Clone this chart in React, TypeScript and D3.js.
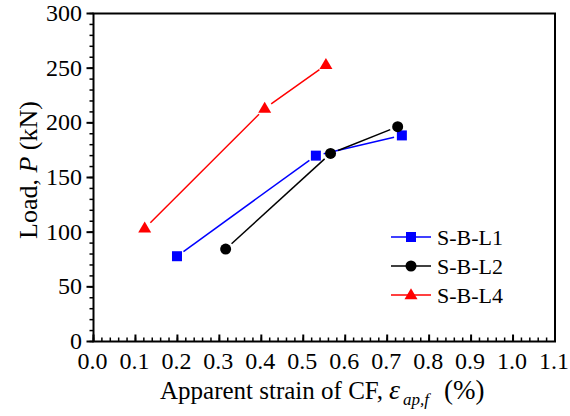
import React from "react";
import * as d3 from "d3";

const seriesNames = ["S-B-L1", "S-B-L2", "S-B-L4"];
const seriesColors = ["#0000ff", "#000000", "#ff0000"];
const seriesShapes = ["square", "circle", "triangle"];
const l1Strain = [0.199, 0.53, 0.735];
const l1Load = [78, 170, 188.5];
const l2Strain = [0.315, 0.565, 0.725];
const l2Load = [84.5, 172, 196.5];
const l4Strain = [0.122, 0.408, 0.554];
const l4Load = [103.5, 213, 253];
const xTicks = [0, 0.1, 0.2, 0.3, 0.4, 0.5, 0.6, 0.7, 0.8, 0.9, 1.0, 1.1];
const yTicks = [0, 50, 100, 150, 200, 250, 300];

const W = 570, H = 416;
const left = 93.5, right = 555, top = 13.5, bottom = 341.5;
const FONT = "Liberation Serif";
const ts = { fontFamily: FONT };

function Marker({ shape, x, y, color }: { shape: string; x: number; y: number; color: string }) {
  if (shape === "square") return <rect x={x - 5} y={y - 5} width={10} height={10} fill={color} />;
  if (shape === "circle") return <circle cx={x} cy={y} r={5.5} fill={color} />;
  const s = 13, h = 11;
  return <path d={`M${x},${y - h * 0.62}L${x + s / 2},${y + h * 0.38}L${x - s / 2},${y + h * 0.38}Z`} fill={color} />;
}

export default function App() {
  const x = d3.scaleLinear().domain([0, 1.1]).range([left, right]);
  const y = d3.scaleLinear().domain([0, 300]).range([bottom, top]);
  const series = [
    { xs: l1Strain, ys: l1Load },
    { xs: l2Strain, ys: l2Load },
    { xs: l4Strain, ys: l4Load },
  ];
  const xMinor = d3.range(0, 1.1001, 0.02);
  const yMinor = d3.range(0, 300.01, 10);
  const gap = 8;

  return (
    <svg width={W} height={H} style={{ position: "absolute", left: 0, top: 0 }}>
      <rect width={W} height={H} fill="#fff" />
      {series.map((s, si) => {
        const pts = s.xs.map((v, i) => [x(v), y(s.ys[i])]);
        const segs = [];
        for (let i = 0; i < pts.length - 1; i++) {
          const [x0, y0] = pts[i];
          const [x1, y1] = pts[i + 1];
          const dx = x1 - x0, dy = y1 - y0;
          const len = Math.hypot(dx, dy);
          if (len <= 2 * gap) continue;
          const ux = dx / len, uy = dy / len;
          segs.push(
            <line key={i} x1={x0 + ux * gap} y1={y0 + uy * gap} x2={x1 - ux * gap} y2={y1 - uy * gap}
              stroke={seriesColors[si]} strokeWidth={1.5} />
          );
        }
        return <g key={si}>{segs}</g>;
      })}
      {series.map((s, si) => (
        <g key={"m" + si}>
          {s.xs.map((v, i) => (
            <Marker key={i} shape={seriesShapes[si]} x={x(v)} y={y(s.ys[i])} color={seriesColors[si]} />
          ))}
        </g>
      ))}
      <rect x={left} y={top} width={right - left} height={bottom - top} fill="none" stroke="#000" strokeWidth={2} />
      {xMinor.map((v, i) => (
        <line key={"xm" + i} x1={x(v)} x2={x(v)} y1={bottom} y2={bottom - 4} stroke="#000" strokeWidth={1.5} />
      ))}
      {xTicks.map((v, i) => (
        <line key={"xt" + i} x1={x(v)} x2={x(v)} y1={bottom} y2={bottom - 7} stroke="#000" strokeWidth={2} />
      ))}
      {yMinor.map((v, i) => (
        <line key={"ym" + i} x1={left} x2={left - 4} y1={y(v)} y2={y(v)} stroke="#000" strokeWidth={1.5} />
      ))}
      {yTicks.map((v, i) => (
        <line key={"yt" + i} x1={left} x2={left - 7} y1={y(v)} y2={y(v)} stroke="#000" strokeWidth={2} />
      ))}
      {xTicks.map((v, i) => (
        <text key={"xl" + i} x={x(v) - 1} y={369} textAnchor="middle" fontSize={24} fill="#000" style={ts}>{v.toFixed(1)}</text>
      ))}
      {yTicks.map((v, i) => (
        <text key={"yl" + i} x={82} y={y(v) + 7.5} textAnchor="end" fontSize={24} fill="#000" style={ts}>{v}</text>
      ))}
      <text x={160} y={399} fontSize={25} fill="#000" style={ts}>
        Apparent strain of CF,
        <tspan x={389} fontStyle="italic" fontSize={28}>ε</tspan>
        <tspan x={403} fontStyle="italic" fontSize={17} dy={6}>ap,f</tspan>
        <tspan x={444} dy={-6} fontSize={27}>(%)</tspan>
      </text>
      <text transform="translate(37,170) rotate(-90)" textAnchor="middle" fontSize={26} fill="#000" style={ts}>
        Load, <tspan fontStyle="italic">P</tspan> (kN)
      </text>
      {seriesNames.map((n, i) => {
        const ly = 237 + i * 29;
        return (
          <g key={"lg" + i}>
            <line x1={391} x2={431} y1={ly} y2={ly} stroke={seriesColors[i]} strokeWidth={1.5} />
            <Marker shape={seriesShapes[i]} x={411} y={ly} color={seriesColors[i]} />
            <text x={437} y={ly + 7.5} fontSize={22} fill="#000" style={ts}>{n}</text>
          </g>
        );
      })}
    </svg>
  );
}
